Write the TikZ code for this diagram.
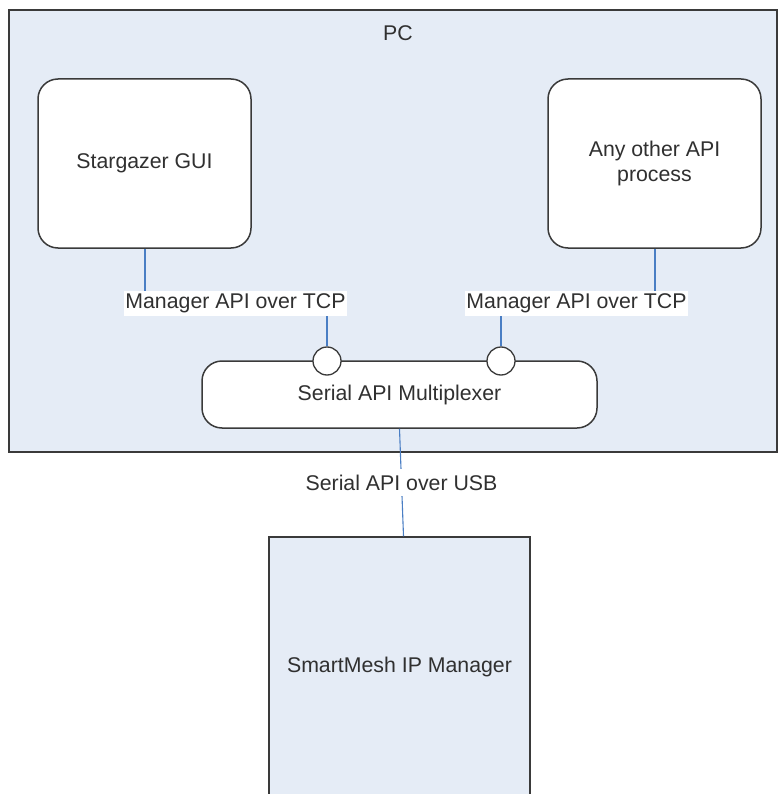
\documentclass[tikz,border=0pt]{standalone}
\usepackage{fontspec}
\setmainfont{Liberation Sans}
\begin{document}
\begin{tikzpicture}[x=1pt,y=-1pt]
\definecolor{pcfill}{HTML}{E5ECF6}
\definecolor{edge}{HTML}{3A3A3A}
\definecolor{conblue}{HTML}{4A7EC4}
\definecolor{txt}{HTML}{303030}
\tikzset{
  every node/.style={font=\fontsize{21.3}{25}\selectfont, text=txt},
  frame/.style={draw=edge, line width=1.5pt, fill=pcfill, inner sep=0pt},
  proc/.style={draw=edge, line width=1.5pt, fill=white, rounded corners=20pt, inner sep=0pt, align=center},
  port/.style={circle, draw=edge, line width=1.3pt, fill=white, minimum size=28pt, inner sep=0pt},
  lbl/.style={fill=white, inner xsep=1pt, inner ysep=3pt},
  lblb/.style={fill=white, inner xsep=1pt, inner ysep=6pt},
  conn/.style={draw=conblue, line width=2pt},
  connthin/.style={draw=conblue, line width=1.1pt},
}
\useasboundingbox (0,0) rectangle (778,794);
\clip (0,0) rectangle (778,794);
\fill[white] (0,0) rectangle (778,794);

% PC container
\node[frame, minimum width=768pt, minimum height=442pt] (pc) at (393,231) {};
\node (pclabel) at (398,33) {PC};

% processes
\node[proc, minimum width=213pt, minimum height=169pt] (sg) at (144.5,163.5) {Stargazer GUI};
\node[proc, minimum width=213pt, minimum height=169pt] (other) at (654.5,163.5) {Any other API\\process};

% multiplexer
\node[proc, minimum width=395pt, minimum height=67pt] (mux) at (399.5,394.5) {Serial API Multiplexer};
\node[port] (p1) at (327,361) {};
\node[port] (p2) at (501,361) {};

% labels
\node[lbl] (l1) at (235.5,303.5) {Manager API over TCP};
\node[lbl] (l2) at (576.5,303.5) {Manager API over TCP};

% connectors
\draw[conn] (sg.south) -- (sg.south |- l1.north);
\draw[conn] (p1.north |- l1.south) -- (p1.north);
\draw[conn] (other.south) -- (other.south |- l2.north);
\draw[conn] (p2.north |- l2.south) -- (p2.north);

% manager
\node[frame, minimum width=261pt, minimum height=260pt] (mgr) at (399.5,667) {SmartMesh IP Manager};

% USB connector
\draw[connthin] (mux.south) -- node[lblb] (l3) {Serial API over USB} ([xshift=4pt]mgr.north);
\end{tikzpicture}
\end{document}
